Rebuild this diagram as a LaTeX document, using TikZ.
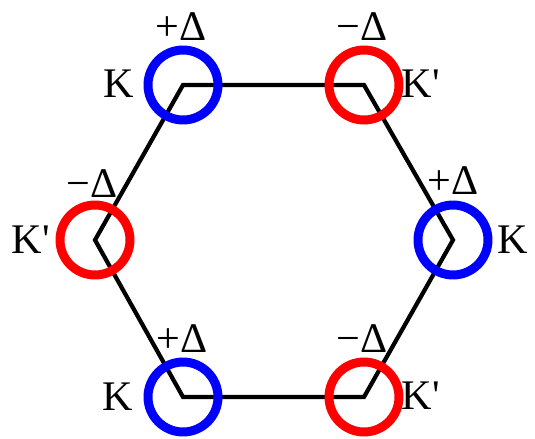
\documentclass[tikz,border=0pt]{standalone}
\usepackage{fontspec}
\setmainfont{Liberation Serif}
\usepackage{tikz}
\usetikzlibrary{positioning}

\tikzset{
  valley/.style={circle, draw, line width=5.1pt, minimum size=1.4cm, inner sep=0pt},
  kvalley/.style={valley, draw=blue},
  kpvalley/.style={valley, draw=red},
  lbl/.style={font=\fontsize{24}{27}\selectfont, inner sep=0pt}
}

\begin{document}
\begin{tikzpicture}[x=0.02cm, y=-0.02cm]
  \useasboundingbox (0,0) rectangle (535,439);

  % Corners of the hexagon
  \coordinate (tl) at (183,85);
  \coordinate (tr) at (364,85);
  \coordinate (rr) at (453,240);
  \coordinate (br) at (364,397);
  \coordinate (bl) at (183,397);
  \coordinate (ll) at (95,240);

  % Hexagon
  \draw[line width=2.4pt, line join=miter] (tl) -- (tr) -- (rr) -- (br) -- (bl) -- (ll) -- cycle;

  % Valleys
  \node[kvalley]  (vtl) at (tl) {};
  \node[kpvalley] (vtr) at (tr) {};
  \node[kvalley]  (vrr) at (rr) {};
  \node[kpvalley] (vbr) at (br) {};
  \node[kvalley]  (vbl) at (bl) {};
  \node[kpvalley] (vll) at (ll) {};

  % Gap signs
  \node[lbl] (dtl) at (181,27) {+Δ};
  \node[lbl] (dtr) at (362,27) {−Δ};
  \node[lbl] (drr) at (453,181) {+Δ};
  \node[lbl] (dbr) at (362,339) {−Δ};
  \node[lbl] (dbl) at (182,339) {+Δ};
  \node[lbl] (dll) at (92,184) {−Δ};

  % Valley names
  \node[lbl] (ktl) at (119,84) {K};
  \node[lbl] (ktr) at (421,84) {K\textquotesingle};
  \node[lbl] (krr) at (513,240) {K};
  \node[lbl] (kbr) at (421,396) {K\textquotesingle};
  \node[lbl] (kbl) at (118,397) {K};
  \node[lbl] (kll) at (31,240) {K\textquotesingle};
\end{tikzpicture}
\end{document}
